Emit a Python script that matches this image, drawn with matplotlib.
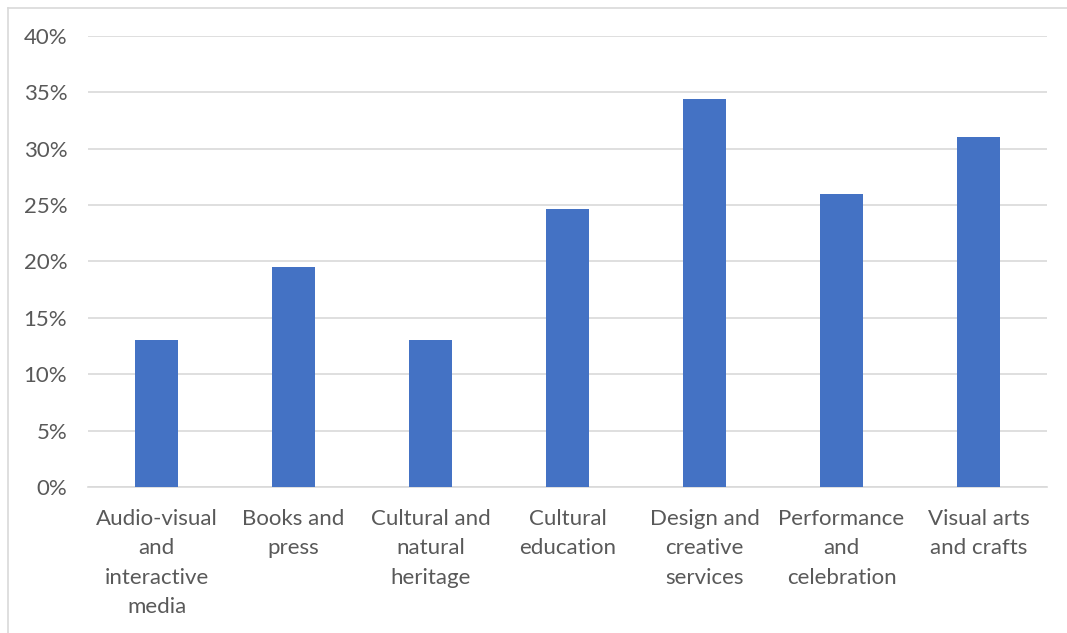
import matplotlib.pyplot as plt
from matplotlib.lines import Line2D
from matplotlib.ticker import MultipleLocator, PercentFormatter

categories = ["Audio-visual\nand\ninteractive\nmedia", "Books and\npress",
              "Cultural and\nnatural\nheritage", "Cultural\neducation",
              "Design and\ncreative\nservices", "Performance\nand\ncelebration",
              "Visual arts\nand crafts"]
shares = [13.0, 19.5, 13.0, 24.7, 34.4, 26.0, 31.0]

plt.rcParams['font.family'] = ['Lato', 'DejaVu Sans']

fig = plt.figure(figsize=(10.67, 6.33), dpi=100)
ax = fig.add_axes([0.0825, 0.2307, 0.8988, 0.7124])

x = range(len(categories))
ax.bar(x, shares, width=0.315, color="#4472C4", zorder=3)

ax.set_xlim(-0.5, len(categories) - 0.5)
ax.set_ylim(0, 40)
ax.yaxis.set_major_locator(MultipleLocator(5))
ax.yaxis.set_major_formatter(PercentFormatter(decimals=0))
ax.set_xticks(list(x))
ax.set_xticklabels(categories, linespacing=1.58)
ax.tick_params(axis='both', length=0, labelsize=16, colors="#595959")
ax.tick_params(axis='y', pad=15)
ax.tick_params(axis='x', pad=16)

ax.grid(axis='y', color="#d9d9d9", linewidth=1.2, zorder=0)
for side in ['top', 'right', 'left']:
    ax.spines[side].set_visible(False)
ax.spines['bottom'].set_color("#d9d9d9")
ax.spines['bottom'].set_linewidth(1.2)

# chart frame: only the top and left edges fall inside the image
top = 1 - 7.5 / 633
left = 7.5 / 1067
fig.lines.append(Line2D([left, 1], [top, top], transform=fig.transFigure,
                        color="#d9d9d9", linewidth=1.2))
fig.lines.append(Line2D([left, left], [0, top], transform=fig.transFigure,
                        color="#d9d9d9", linewidth=1.2))

fig.savefig("out.png", dpi=100)
